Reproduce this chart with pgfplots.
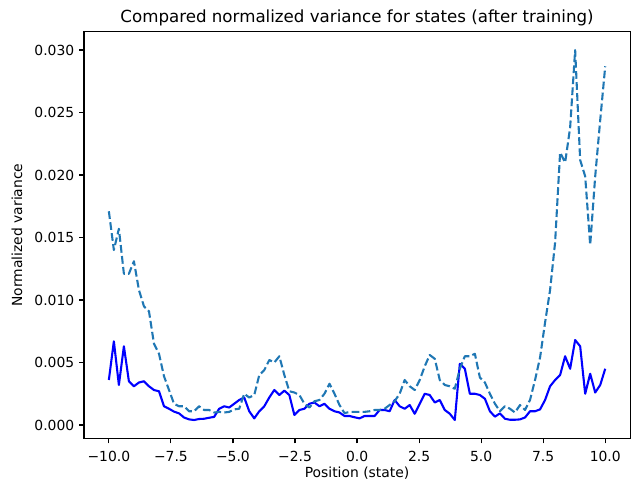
\documentclass[border=0pt,10pt]{standalone}
\usepackage{fontspec}
\setmainfont{DejaVu Sans}
\usepackage{pgfplots}
\usepackage{pgfplotstable}
\pgfplotsset{compat=1.18}
\definecolor{mplblue}{HTML}{1F77B4}
\pgfplotstableread{
x solid dashed
-10 0.0036 0.0171
-9.7980 0.0067 0.0140
-9.5960 0.0032 0.0157
-9.3939 0.0063 0.0121
-9.1919 0.0035 0.0121
-8.9899 0.0031 0.0131
-8.7879 0.0034 0.0108
-8.5859 0.0035 0.0095
-8.3838 0.0031 0.0091
-8.1818 0.0028 0.0065
-7.9798 0.0027 0.0057
-7.7778 0.0015 0.0039
-7.5758 0.0013 0.0028
-7.3737 0.00107 0.0017
-7.1717 0.00093 0.0015
-6.9697 0.0006 0.0015
-6.7677 0.00045 0.0011
-6.5657 0.0004 0.0011
-6.3636 0.00048 0.0015
-6.1616 0.0005 0.0012
-5.9596 0.00058 0.0012
-5.7576 0.00065 0.0010
-5.5556 0.0013 0.00105
-5.3535 0.0015 0.0010
-5.1515 0.0014 0.00105
-4.9495 0.0017 0.00125
-4.7475 0.0020 0.0013
-4.5455 0.0022 0.0025
-4.3434 0.0011 0.0022
-4.1414 0.00053 0.0024
-3.9394 0.0011 0.0040
-3.7374 0.0015 0.0044
-3.5354 0.0022 0.0052
-3.3333 0.0028 0.0050
-3.1313 0.0024 0.0055
-2.9293 0.00275 0.0040
-2.7273 0.0024 0.0027
-2.5253 0.0008 0.0026
-2.3232 0.0012 0.0024
-2.1212 0.0013 0.0017
-1.9192 0.0017 0.0014
-1.7172 0.0018 0.0019
-1.5152 0.0015 0.0020
-1.3131 0.0017 0.0025
-1.1111 0.0013 0.0033
-0.9091 0.0011 0.0025
-0.7071 0.0010 0.0016
-0.5051 0.00072 0.00095
-0.3030 0.00072 0.00105
-0.1010 0.00062 0.00105
0.1010 0.00053 0.00105
0.3030 0.00072 0.00105
0.5051 0.00072 0.0011
0.7071 0.00072 0.0012
0.9091 0.0012 0.0012
1.1111 0.0012 0.0013
1.3131 0.0011 0.0016
1.5152 0.0020 0.0019
1.7172 0.0015 0.0025
1.9192 0.0013 0.0036
2.1212 0.0016 0.0031
2.3232 0.0009 0.0028
2.5253 0.0017 0.0036
2.7273 0.0025 0.0047
2.9293 0.0024 0.0056
3.1313 0.0018 0.0053
3.3333 0.0020 0.0036
3.5354 0.0012 0.0032
3.7374 0.0009 0.0031
3.9394 0.0004 0.0029
4.1414 0.0049 0.0045
4.3434 0.0045 0.0055
4.5455 0.0025 0.0055
4.7475 0.0025 0.0057
4.9495 0.0024 0.0038
5.1515 0.0021 0.0034
5.3535 0.0011 0.0025
5.5556 0.00067 0.0017
5.7576 0.00093 0.0011
5.9596 0.0005 0.0015
6.1616 0.00042 0.0013
6.3636 0.00042 0.0010
6.5657 0.00045 0.0016
6.7677 0.0006 0.0012
6.9697 0.0011 0.0020
7.1717 0.0011 0.0036
7.3737 0.00125 0.0054
7.5758 0.0020 0.0082
7.7778 0.0031 0.0108
7.9798 0.0036 0.0146
8.1818 0.0040 0.0218
8.3838 0.0055 0.0210
8.5859 0.0045 0.0238
8.7879 0.0068 0.0300
8.9899 0.0063 0.0212
9.1919 0.0025 0.0199
9.3939 0.0041 0.0144
9.5960 0.0026 0.0199
9.7980 0.0032 0.0244
10 0.0045 0.0287
}\datatable
\begin{document}
\begin{tikzpicture}
\begin{axis}[
  scale only axis,
  width=393.1pt, height=293pt,
  xmin=-11, xmax=11,
  ymin=-0.00108, ymax=0.03148,
  xtick={-10,-7.5,-5,-2.5,0,2.5,5,7.5,10},
  xticklabels={−10.0,−7.5,−5.0,−2.5,0.0,2.5,5.0,7.5,10.0},
  ytick={0,0.005,0.01,0.015,0.02,0.025,0.03},
  yticklabels={0.000,0.005,0.010,0.015,0.020,0.025,0.030},
  scaled y ticks=false,
  xtick pos=bottom, ytick pos=left,
  tick align=outside,
  major tick length=3.5pt,
  every tick/.style={black, line width=0.8pt},
  axis line style={black, line width=0.8pt},
  tick label style={font=\fontsize{10}{12}\selectfont},
  xticklabel style={yshift=-2pt},
  title={Compared normalized variance for states (after training)},
  title style={font=\fontsize{12}{14}\selectfont, at={(axis description cs:0.5,1)}, anchor=base, yshift=0.8pt, inner sep=0pt},
  xlabel={Position (state)},
  xlabel style={font=\fontsize{10}{12}\selectfont, at={(axis description cs:0.5,-0.0949)}, anchor=base, inner sep=0pt},
  ylabel={Normalized variance},
  ylabel style={font=\fontsize{10}{12}\selectfont, at={(axis description cs:-0.1135,0.5)}, anchor=base, rotate=0, inner sep=0pt},
]
\addplot[blue, line width=1.5pt, line join=round] table[x=x, y=solid] {\datatable};
\addplot[mplblue, line width=1.5pt, line join=round, dash pattern=on 5.55pt off 2.4pt] table[x=x, y=dashed] {\datatable};
\coordinate (bl) at (rel axis cs:0,0);
\coordinate (tr) at (rel axis cs:1,1);
\end{axis}
\draw[black, line width=0.8pt] (bl) rectangle (tr);
\pgfresetboundingbox
\useasboundingbox ([xshift=-60.5pt,yshift=-34.2pt]bl) rectangle ([xshift=1.4pt,yshift=22.7pt]tr);
\end{tikzpicture}
\end{document}
